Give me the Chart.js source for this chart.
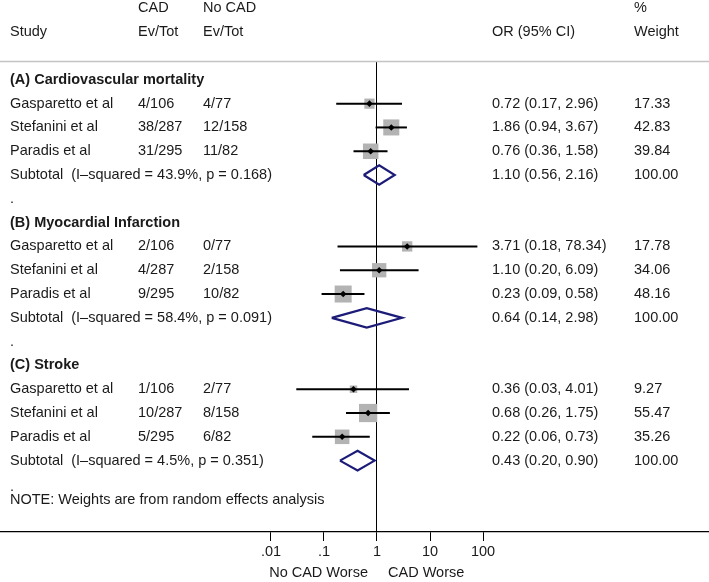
<!DOCTYPE html>
<html>
<head>
<meta charset="utf-8">
<script src="https://cdn.jsdelivr.net/npm/chart.js@4.4.0/dist/chart.umd.min.js"></script>
<style>
  html, body { margin: 0; padding: 0; background: #fff; }
</style>
</head>
<body>
<canvas id="forest" width="709" height="582"></canvas>
<script>
// data
const groups = ['(A) Cardiovascular mortality', '(B) Myocardial Infarction', '(C) Stroke'];
const studies = ['Gasparetto et al', 'Stefanini et al', 'Paradis et al'];
const cadEvents = [['4/106', '38/287', '31/295'], ['2/106', '4/287', '9/295'], ['1/106', '10/287', '5/295']];
const noCadEvents = [['4/77', '12/158', '11/82'], ['0/77', '2/158', '10/82'], ['2/77', '8/158', '6/82']];
const oddsRatio = [[0.72, 1.86, 0.76], [3.71, 1.10, 0.23], [0.36, 0.68, 0.22]];
const lowerCI = [[0.17, 0.94, 0.36], [0.18, 0.20, 0.09], [0.03, 0.26, 0.06]];
const upperCI = [[2.96, 3.67, 1.58], [78.34, 6.09, 0.58], [4.01, 1.75, 0.73]];
const weights = [[17.33, 42.83, 39.84], [17.78, 34.06, 48.16], [9.27, 55.47, 35.26]];
const subtotalOR = [1.10, 0.64, 0.43];
const subtotalLo = [0.56, 0.14, 0.20];
const subtotalHi = [2.16, 2.98, 0.90];
const heterogeneity = ['(I\u2013squared = 43.9%, p = 0.168)', '(I\u2013squared = 58.4%, p = 0.091)', '(I\u2013squared = 4.5%, p = 0.351)'];
const tickValues = [0.01, 0.1, 1, 10, 100];
const tickLabels = ['.01', '.1', '1', '10', '100'];

const FONT = '"Liberation Sans", Arial, Helvetica, sans-serif';
const TXT = '#1a1a1a';
const NAVY = '#1c1c78';
const diamondHalf = 0.41;   // half height of the pooled diamond, in rows
const boxScale = 2.45;      // box side = boxScale * sqrt(weight)

// row layout: group title, 3 studies, subtotal, spacer
const rowOf = (g, i) => 2 + 6 * g + i;
const subRow = g => 5 + 6 * g;
const titleRow = g => 1 + 6 * g;

let boxPts = [], boxW = [], markPts = [];
let datasets = [];
groups.forEach((gname, g) => {
  studies.forEach((s, i) => {
    let r = rowOf(g, i);
    boxPts.push({x: oddsRatio[g][i], y: r});
    boxW.push(weights[g][i]);
    markPts.push({x: oddsRatio[g][i], y: r});
    datasets.push({
      data: [{x: lowerCI[g][i], y: r}, {x: upperCI[g][i], y: r}],
      showLine: true, borderColor: '#000', borderWidth: 2, pointRadius: 0, order: 2
    });
  });
  let r = subRow(g);
  datasets.push({
    data: [
      {x: subtotalLo[g], y: r},
      {x: subtotalOR[g], y: r - diamondHalf},
      {x: subtotalHi[g], y: r},
      {x: subtotalOR[g], y: r + diamondHalf},
      {x: subtotalLo[g], y: r}
    ],
    showLine: true, borderColor: NAVY, borderWidth: 2.2, pointRadius: 0,
    backgroundColor: '#fff', fill: false, borderJoinStyle: 'miter', order: 1
  });
});

datasets.push({
  data: boxPts, pointStyle: 'rect', backgroundColor: '#b3b3b3', borderWidth: 0,
  pointRadius: ctx => boxScale * Math.sqrt(boxW[ctx.dataIndex] || 0) / Math.SQRT2,
  order: 3
});
datasets.push({
  data: markPts, pointStyle: 'rectRot', backgroundColor: '#000', borderWidth: 0,
  pointRadius: 3.3, order: 0
});

const textPlugin = {
  id: 'forestText',
  afterDraw: (chart) => {
    const ctx = chart.ctx;
    const y = chart.scales.y, x = chart.scales.x;
    const area = chart.chartArea;
    ctx.save();
    // grey divider under the header
    ctx.strokeStyle = '#c4c4c4';
    ctx.lineWidth = 1.5;
    ctx.beginPath();
    ctx.moveTo(0, area.top - 0.5);
    ctx.lineTo(chart.width, area.top - 0.5);
    ctx.stroke();

    ctx.fillStyle = TXT;
    ctx.textBaseline = 'middle';
    ctx.textAlign = 'left';
    ctx.font = '14.5px ' + FONT;
    const put = (t, px, row) => ctx.fillText(t, px, y.getPixelForValue(row));

    // header
    put('CAD', 138, -2);
    put('No CAD', 203, -2);
    put('%', 634, -2);
    put('Study', 10, -1);
    put('Ev/Tot', 138, -1);
    put('Ev/Tot', 203, -1);
    put('OR (95% CI)', 492, -1);
    put('Weight', 634, -1);

    groups.forEach((gname, g) => {
      ctx.font = 'bold 14.5px ' + FONT;
      put(gname, 10, titleRow(g));
      ctx.font = '14.5px ' + FONT;
      studies.forEach((s, i) => {
        let r = rowOf(g, i);
        put(s, 10, r);
        put(cadEvents[g][i], 138, r);
        put(noCadEvents[g][i], 203, r);
        put(oddsRatio[g][i].toFixed(2) + ' (' + lowerCI[g][i].toFixed(2) + ', ' + upperCI[g][i].toFixed(2) + ')', 492, r);
        put(weights[g][i].toFixed(2), 634, r);
      });
      let r = subRow(g);
      put('Subtotal  ' + heterogeneity[g], 10, r);
      put(subtotalOR[g].toFixed(2) + ' (' + subtotalLo[g].toFixed(2) + ', ' + subtotalHi[g].toFixed(2) + ')', 492, r);
      put('100.00', 634, r);
      put('.', 10, g < 2 ? r + 1 : 18.1);
    });
    put('NOTE: Weights are from random effects analysis', 10, 18.65);

    // direction labels under the axis
    const one = x.getPixelForValue(1);
    ctx.textAlign = 'right';
    ctx.fillText('No CAD Worse', one - 9, 573);
    ctx.textAlign = 'left';
    ctx.fillText('CAD Worse', one + 11, 573);
    ctx.restore();
  }
};

new Chart(document.getElementById('forest'), {
  type: 'scatter',
  data: {datasets: datasets},
  options: {
    responsive: false,
    animation: false,
    layout: {autoPadding: false, padding: {top: 62, bottom: 19.6, left: 0, right: 0}},
    plugins: {legend: {display: false}, tooltip: {enabled: false}},
    scales: {
      x: {
        type: 'logarithmic',
        min: Math.pow(10, -7.113),
        max: Math.pow(10, 6.264),
        afterBuildTicks: (axis) => { axis.ticks = tickValues.map(v => ({value: v})); },
        ticks: {
          autoSkip: false, maxRotation: 0, padding: 2, color: TXT,
          font: {family: FONT, size: 14.5},
          callback: (v) => tickLabels[tickValues.indexOf(v)]
        },
        grid: {
          color: ctx => (ctx.tick && ctx.tick.value === 1) ? '#000' : 'rgba(0,0,0,0)',
          tickColor: '#000', tickLength: 9, lineWidth: 1
        },
        border: {display: true, color: '#000', width: 1.2}
      },
      y: {
        type: 'linear', reverse: true, min: 0.25, max: 20, display: false
      }
    }
  },
  plugins: [textPlugin]
});
</script>
</body>
</html>
